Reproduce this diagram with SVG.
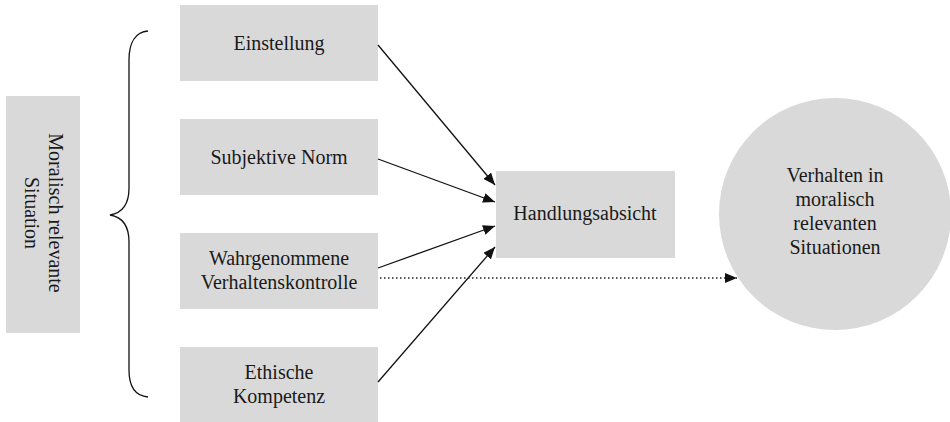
<svg xmlns="http://www.w3.org/2000/svg" width="950" height="422" viewBox="0 0 950 422">
<style>
.box{fill:#d9d9d9}
.t{font-family:"Liberation Serif","Times New Roman",serif;font-size:20px;fill:#1a1a1a;text-anchor:middle}
.c{stroke:#111;stroke-width:1.3;fill:none}
.d{stroke:#222;stroke-width:1.3;fill:none;stroke-dasharray:1.5 2.5}
</style>
<defs>
<marker id="ah" viewBox="0 0 12 10" refX="12" refY="5" markerWidth="12" markerHeight="10" markerUnits="userSpaceOnUse" orient="auto">
<path d="M0,0 L12,5 L0,10 z" fill="#111"/>
</marker>
</defs>
<rect width="950" height="422" fill="#fff"/>
<g id="situation">
<rect class="box" x="6" y="96" width="74" height="237"/>
<text class="t" transform="translate(43,213) rotate(90)"><tspan x="0" y="-6">Moralisch relevante</tspan><tspan x="0" y="18">Situation</tspan></text>
</g>
<g id="brace">
<path class="c" d="M148,31 C136,32 129,42 129,60 L129,188 C129,204 122,213 110,215 C122,217 129,226 129,242 L129,370 C129,388 136,396 148,397"/>
</g>
<g id="einstellung">
<rect class="box" x="180" y="5" width="198" height="76"/>
<text class="t" x="279" y="50">Einstellung</text>
</g>
<g id="norm">
<rect class="box" x="180" y="119" width="198" height="76"/>
<text class="t" x="279" y="164">Subjektive Norm</text>
</g>
<g id="kontrolle">
<rect class="box" x="180" y="233" width="198" height="76"/>
<text class="t" x="279" y="265">Wahrgenommene</text>
<text class="t" x="279" y="289">Verhaltenskontrolle</text>
</g>
<g id="ethik">
<rect class="box" x="180" y="347" width="198" height="75"/>
<text class="t" x="279" y="379">Ethische</text>
<text class="t" x="279" y="403">Kompetenz</text>
</g>
<g id="absicht">
<rect class="box" x="496" y="171" width="179" height="87"/>
<text class="t" x="585" y="220">Handlungsabsicht</text>
</g>
<g id="verhalten">
<circle class="box" cx="835" cy="214" r="116"/>
<text class="t" x="835" y="182">Verhalten in</text>
<text class="t" x="835" y="206">moralisch</text>
<text class="t" x="835" y="230">relevanten</text>
<text class="t" x="835" y="254">Situationen</text>
</g>
<g id="connectors">
<line class="c" x1="378" y1="45" x2="495" y2="185" marker-end="url(#ah)"/>
<line class="c" x1="378" y1="159" x2="495" y2="202" marker-end="url(#ah)"/>
<line class="c" x1="378" y1="268" x2="495" y2="226" marker-end="url(#ah)"/>
<line class="c" x1="378" y1="382" x2="495" y2="247" marker-end="url(#ah)"/>
<line class="d" x1="380" y1="278" x2="737" y2="278" marker-end="url(#ah)"/>
</g>
</svg>
